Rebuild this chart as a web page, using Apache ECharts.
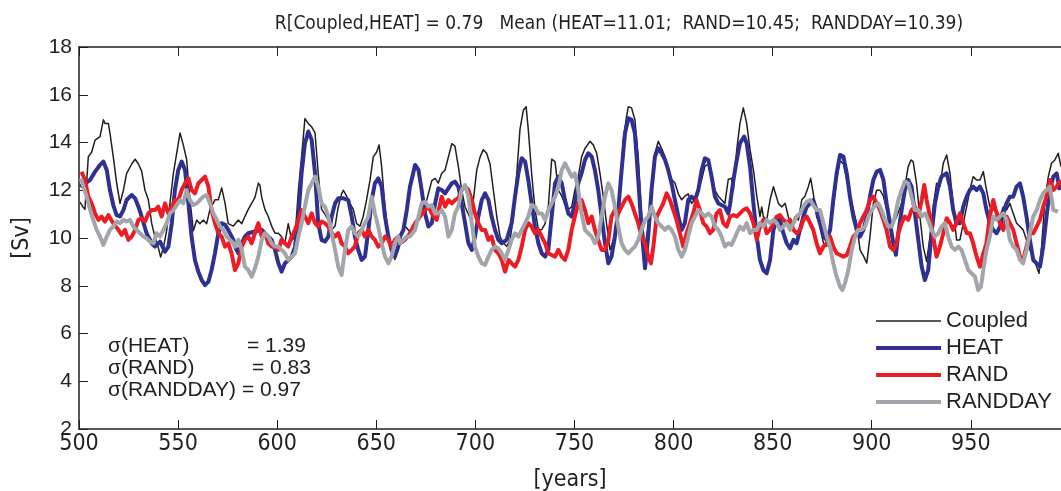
<!DOCTYPE html>
<html>
<head>
<meta charset="utf-8">
<script src="https://cdn.jsdelivr.net/npm/echarts@6/dist/echarts.min.js"></script>
<style>
html,body{margin:0;padding:0;background:#fff;}
#c{width:1061px;height:491px;}
</style>
</head>
<body>
<div id="c"></div>
<script>
const titleText = "R[Coupled,HEAT] = 0.79   Mean (HEAT=11.01;  RAND=10.45;  RANDDAY=10.39)";
const seriesNames = ["Coupled", "HEAT", "RAND", "RANDDAY"];
const sigmaLabels = ["\u03c3(HEAT)", "\u03c3(RAND)", "\u03c3(RANDDAY)"];
const sigmaValues = ["= 1.39", "= 0.83", "= 0.97"];
const yTicks = [2, 4, 6, 8, 10, 12, 14, 16, 18];
const xTicks = [500, 550, 600, 650, 700, 750, 800, 850, 900, 950];

const coupled = [[500.5,11.5],[502,11.3],[503,11.2],[504.7,13.4],[506.4,13.6],[508.1,14.1],[510.6,14.25],[512.3,14.95],[513.1,14.8],[514.8,14.8],[515.6,14.4],[517.3,13.4],[519,12.3],[520.7,11.45],[522.4,12.0],[524,12.7],[526.6,13.1],[528.3,13.3],[530,13.1],[531.6,12.8],[533.3,12.0],[535,11.6],[536.7,10.6],[538.3,10.05],[540,9.6],[541.2,9.2],[542.6,9.6],[544.2,10.3],[545.9,11.45],[547.6,12.7],[549.3,13.55],[551,14.4],[552.6,13.9],[554.3,13.3],[556,11.6],[557.7,10.3],[559.4,10.75],[561,10.6],[562.7,10.75],[564.4,10.6],[566.1,11.2],[568.6,11.6],[570.3,11.6],[572,12.1],[573.7,11.45],[575.3,10.6],[577.9,10.5],[580.4,10.75],[582.1,10.6],[583.7,10.9],[585.4,11.2],[587.1,11.45],[588.8,11.7],[590.5,12.3],[591.3,12.2],[592.2,11.7],[593.8,11.2],[595.5,10.9],[597.2,10.5],[598.9,10.2],[600.6,10.2],[602.2,10.05],[603.9,9.8],[605.6,10.6],[607.3,9.9],[609,10.05],[610.7,12.0],[612.3,13.4],[614,15.0],[615.7,14.8],[617.4,14.65],[619.1,14.4],[620.7,12.7],[622.4,11.2],[624.1,11.0],[625.8,10.75],[627.5,10.35],[629.2,10.5],[630.8,11.3],[632.5,11.85],[633.4,12.0],[635,11.75],[636.7,11.45],[638.4,11.2],[640.1,10.6],[641.8,10.5],[643.4,10.9],[645.1,11.6],[646.8,12.4],[648.5,13.4],[650.2,13.6],[651.4,13.9],[652.7,13.0],[654.4,11.3],[656.1,10.05],[657.7,9.6],[659.4,9.1],[661.1,9.65],[662.8,10.2],[664.5,10.5],[666.5,10.3],[668.7,10.35],[672.1,10.9],[675.5,11.6],[678,12.4],[679.7,12.5],[681.3,12.3],[683,12.7],[684.7,12.85],[686.4,13.4],[688.1,13.95],[689.7,13.85],[691.4,13.0],[693.1,12.0],[694.8,11.3],[696.5,11.0],[697.7,10.75],[699,11.6],[700.7,12.85],[702.4,13.4],[704,13.7],[705.7,13.55],[707.4,13.1],[709.1,12.0],[710.8,10.9],[712.5,10.05],[714.1,9.8],[715.8,9.65],[717.5,9.9],[719.2,10.9],[720.9,12.7],[722.5,14.55],[724.2,15.35],[725.6,15.5],[726.7,14.55],[728.4,12.7],[730.1,11.2],[731.8,10.35],[733.5,10.35],[735.2,10.6],[736.8,11.3],[738.5,13.3],[740.2,13.2],[741.9,12.0],[743.6,11.75],[745.2,11.4],[746.9,11.2],[748.6,11.3],[750.2,12.0],[751.9,12.55],[753.6,13.4],[755.3,13.75],[757.8,14.05],[759.5,13.9],[761.2,13.55],[762.9,12.7],[764.5,11.75],[766.2,10.6],[767.9,9.5],[769.6,9.9],[771.3,10.35],[772.9,12.0],[774.6,14.1],[776.3,15.1],[777.2,15.5],[778.8,15.45],[780.5,14.95],[782.2,13.4],[783.9,10.9],[785.6,9.65],[787.2,10.5],[788.9,12.3],[790.6,13.55],[792.3,14.05],[794,13.75],[795.7,13.4],[797.3,12.85],[799,12.45],[800.7,12.3],[802.4,11.85],[804.1,11.6],[805.7,11.75],[807.4,11.85],[809.1,11.45],[810.8,11.6],[812.5,12.0],[814.2,12.45],[815.8,13.0],[817.5,13.1],[819.2,12.55],[820.9,12.0],[822.6,11.75],[824.2,11.6],[825.9,11.45],[827.6,12.45],[829.3,12.5],[830.2,12.0],[831.9,13.7],[833.5,14.8],[835.2,15.45],[836.9,14.8],[838.6,13.7],[840.3,12.85],[842,11.75],[843.6,10.9],[844.5,11.3],[845.3,10.9],[847,10.75],[848.7,11.6],[850.4,12.15],[851.2,12.2],[852.9,11.45],[854.6,11.3],[856.3,11.45],[857.9,10.9],[859.6,10.5],[861.3,10.9],[863,10.75],[864.7,11.6],[866.3,11.75],[868,12.15],[869.2,12.5],[870.5,11.87],[872.2,10.9],[873.9,10.5],[875.6,9.8],[877.3,9.65],[879,10.3],[880.6,11.3],[882.3,12.45],[884,13.25],[885.7,13.1],[887.4,12.45],[889,11.75],[890.7,11.2],[892.4,10.6],[894.1,9.5],[895.8,9.25],[897.5,8.95],[899.1,10.05],[900.8,11.45],[902.5,12.0],[904.2,12.0],[905.9,11.75],[907.5,11.2],[909.2,10.75],[910.9,10.6],[912.6,10.9],[915.1,11.45],[916.7,12.15],[918.4,12.99],[919.8,13.27],[920.9,13.2],[922.6,12.29],[924.3,10.9],[926,9.64],[927.7,9.01],[929.4,10.06],[931,11.31],[932.7,12.29],[934.4,12.15],[936.1,13.13],[937.8,13.48],[939.5,12.71],[941.1,11.31],[942.8,9.92],[944.5,9.92],[946.2,10.62],[947.9,11.31],[949.5,12.01],[951.2,12.57],[952.9,12.43],[954.6,12.43],[956.3,12.78],[957.9,12.01],[959.6,11.31],[961.3,11.17],[963,11.17],[964.7,10.9],[966.4,11.31],[968,11.17],[969.7,11.45],[971.4,11.03],[973.1,10.62],[974.8,10.48],[976.4,10.34],[978.1,9.92],[979.8,9.5],[981.5,9.22],[983.2,8.8],[984.4,8.52],[985.7,9.64],[987.4,11.59],[989.1,12.57],[990.7,13.13],[992.4,13.27],[994.1,13.55],[995.5,12.99]];

const heat = [[500.5,12.15],[505.6,12.43],[508.1,12.78],[510.6,13.06],[512.3,13.2],[514,12.85],[515.6,12.01],[517.3,11.38],[519,10.96],[520.7,10.9],[522.4,11.17],[524,11.59],[526.6,11.8],[528.3,11.66],[530,11.31],[531.6,10.9],[534.1,10.2],[536.7,9.78],[538.3,9.64],[540.9,9.85],[543.4,9.43],[545.1,9.64],[546.8,10.62],[548.4,12.01],[550.1,12.85],[551.8,13.2],[553.5,12.85],[555.2,11.45],[556.8,10.06],[558.5,9.08],[560.2,8.59],[561.9,8.24],[563.6,8.03],[565.3,8.17],[566.9,8.66],[568.6,9.36],[570.3,10.2],[572,10.62],[573.7,10.55],[575.3,10.34],[577.9,9.92],[578.7,9.64],[580.4,9.36],[582.1,9.78],[583.7,10.06],[585.4,10.2],[588.8,10.27],[592.2,10.34],[593.8,10.2],[595.5,10.06],[597.2,9.92],[598.9,9.5],[600.6,8.94],[602.2,8.59],[603.9,8.94],[605.6,9.08],[607.3,9.22],[609,9.64],[610.7,10.9],[612.3,12.71],[614,13.97],[615.7,14.46],[617.4,14.11],[619.1,12.71],[620.7,10.62],[622.4,9.92],[624.1,9.85],[625.8,10.06],[627.5,10.9],[629.2,11.45],[630.8,11.66],[633.4,11.66],[635.9,11.59],[637.6,10.9],[639.2,10.06],[640.9,9.5],[642.6,9.08],[644.3,9.22],[646,10.34],[647.7,11.59],[649.3,12.29],[651,12.5],[652.7,12.15],[654.4,10.9],[656.1,10.06],[657.7,9.5],[659.4,9.22],[661.1,9.64],[662,10.06],[663.7,10.34],[665.4,11.17],[667,12.15],[669.6,13.06],[671.3,12.85],[672.9,12.01],[674.6,11.03],[676.3,10.48],[678,10.62],[679.7,11.45],[681.3,12.08],[683,12.01],[684.7,11.87],[686.4,12.08],[688.1,12.29],[689.7,12.36],[691.4,12.15],[693.1,11.45],[694.8,10.62],[696.5,9.78],[698.2,9.5],[699.8,10.06],[701.5,10.9],[703.2,11.59],[704.9,11.87],[706.6,11.59],[708.2,10.9],[709.9,10.34],[711.6,9.92],[713.3,9.78],[715.8,9.92],[718.3,10.62],[720,11.73],[721.7,12.71],[723.4,13.34],[725.1,13.2],[726.7,12.43],[728.4,11.45],[730.1,10.48],[731.8,9.78],[733.5,9.36],[735.2,9.22],[736.8,9.5],[738.5,10.9],[740.2,12.29],[741.9,12.57],[743.6,12.29],[745.2,11.59],[746.9,11.03],[748.6,10.9],[750.2,11.45],[751.9,12.29],[753.6,12.71],[755.3,13.27],[757,13.55],[758.7,13.41],[760.3,12.85],[762,12.01],[763.7,10.9],[765.4,9.78],[767.1,8.94],[768.7,9.22],[770.4,10.06],[772.1,11.17],[773.8,12.85],[775.5,14.39],[777.2,15.02],[778.8,14.95],[780.5,14.39],[782.2,12.43],[783.9,10.34],[785.6,8.73],[787.2,10.06],[788.9,12.01],[790.6,13.41],[792.3,13.76],[794,13.55],[795.7,13.27],[797.3,12.85],[799,12.29],[800.7,11.59],[802.4,10.9],[804.1,10.34],[805.7,10.62],[807.4,11.59],[809.1,11.73],[810.8,11.59],[812.5,12.01],[814.2,12.85],[815.8,13.34],[817.5,13.27],[819.2,12.57],[820.9,11.73],[822.6,11.45],[824.2,11.38],[825.9,11.31],[827.6,11.03],[828.5,11.4],[830.2,12.43],[831.9,13.27],[833.5,13.97],[835.6,14.25],[836.9,13.97],[838.6,12.99],[840.3,11.45],[842,10.06],[843.6,9.08],[845.3,8.66],[847,8.52],[848.7,9.08],[850.4,10.34],[852.1,10.76],[853.7,10.76],[855.4,10.2],[857.1,9.78],[858.8,9.57],[860.5,9.92],[862.1,9.78],[863.8,10.34],[865.5,10.9],[867.2,11.31],[868.9,11.45],[870.5,11.59],[872.2,11.17],[873.9,10.62],[875.6,10.06],[877.3,9.92],[879,10.34],[880.6,11.59],[882.3,12.71],[884,13.48],[885.7,13.41],[887.4,12.71],[889,11.73],[890.7,10.9],[892.4,10.34],[894.1,10.06],[895.8,10.34],[897.5,10.9],[899.1,11.73],[900.8,12.43],[902.5,12.78],[904.2,12.85],[905.9,12.43],[907.5,11.45],[909.2,10.62],[910.9,9.78],[912.2,9.3],[913.4,10.2],[915.1,11.17],[916.7,12.01],[918.4,12.43],[920.1,12.15],[921.8,11.03],[923.5,9.92],[925.2,8.8],[926.8,8.24],[928.5,8.66],[930.2,10.2],[931.9,11.45],[933.6,12.15],[935.2,12.57],[937.8,12.71],[939.5,12.15],[941.1,11.17],[942.8,10.62],[944.5,10.62],[946.2,11.31],[947.9,11.73],[949.5,12.01],[951.2,12.15],[952.9,12.01],[954.6,12.15],[956.3,11.87],[957.9,11.17],[959.6,10.62],[961.3,10.34],[963,10.2],[964.7,10.48],[966.4,11.03],[968,11.45],[969.7,11.73],[971.4,11.73],[973.1,12.15],[974.8,12.29],[976.4,11.73],[978.1,10.9],[979.8,9.92],[981.5,9.08],[983.2,8.94],[984.9,8.8],[986.5,9.64],[988.2,10.9],[989.9,12.01],[991.6,12.57],[993.3,12.71],[994.9,12.01]];

const rand = [[501.3,12.78],[503,12.43],[504.7,11.73],[506.4,11.45],[508.1,11.03],[509.8,10.76],[511.4,10.9],[513.1,10.69],[514.8,10.96],[517.3,10.62],[519.9,10.34],[521.5,10.13],[523.2,10.34],[524.9,9.92],[526.6,10.06],[528.3,10.34],[530,10.76],[531.6,10.83],[533.3,10.69],[535,11.03],[536.7,11.17],[538.3,11.17],[540,11.31],[541.7,10.9],[543.4,11.45],[545.1,11.03],[546.8,11.31],[548.4,11.59],[550.1,11.59],[551.8,12.01],[553.5,12.29],[555.2,12.5],[556.8,12.01],[558.5,11.87],[560.2,12.29],[561.9,12.43],[563.6,12.57],[565.3,12.15],[566.9,11.17],[568.6,10.62],[570.3,10.2],[572,10.06],[573.7,9.64],[575.3,9.78],[577,9.36],[578.7,8.66],[580.4,8.94],[582.1,9.64],[583.7,9.92],[585.4,10.06],[587.1,9.78],[588.8,10.2],[590.5,10.62],[592.2,10.06],[593.8,10.2],[595.5,9.78],[597.2,9.64],[598.9,9.64],[600.6,9.5],[602.2,9.92],[603.9,9.78],[605.6,9.64],[607.3,10.06],[609,10.34],[610.7,10.76],[612.3,11.17],[614,10.9],[615.7,10.62],[617.4,11.03],[619.1,10.62],[620.7,10.48],[622.4,10.69],[624.1,10.62],[625.8,10.48],[627.5,10.2],[629.2,10.06],[630.8,10.2],[632.5,9.78],[634.2,9.64],[635.9,9.36],[637.6,9.5],[639.2,9.64],[640.9,10.2],[642.6,10.34],[644.3,10.06],[646,10.34],[647.7,10.06],[649.3,9.92],[651,9.64],[652.7,9.78],[654.4,10.06],[656.1,9.92],[657.7,9.64],[659.4,9.92],[661.1,10.06],[662,9.78],[664.5,9.92],[667,10.2],[669.6,10.62],[672.1,10.9],[674.6,11.17],[676.3,11.31],[678,11.03],[680.5,10.76],[683,11.73],[684.7,11.31],[686.4,11.59],[688.1,11.45],[689.7,11.59],[691.4,11.66],[693.1,12.01],[694.8,12.15],[696.5,12.01],[698.2,11.59],[699.8,11.03],[701.5,10.62],[703.2,10.34],[704.9,10.34],[706.6,9.92],[708.2,10.06],[709.9,9.5],[711.6,9.36],[713.3,9.08],[715,8.59],[716.7,9.08],[718.3,8.94],[720,8.8],[721.7,9.08],[723.4,9.64],[725.1,10.34],[726.7,10.62],[728.4,10.48],[730.1,10.2],[731.8,10.34],[733.5,10.06],[735.2,9.78],[736.8,9.36],[738.5,9.29],[740.2,9.22],[741.9,9.5],[743.6,9.22],[745.2,9.08],[746.9,9.5],[748.6,10.34],[750.2,10.9],[751.9,11.45],[753.6,11.59],[755.3,11.17],[757,10.62],[758.7,10.9],[760.3,10.34],[762,9.92],[763.7,9.5],[765.4,9.5],[767.1,9.92],[768.7,10.9],[770.4,11.17],[772.1,11.03],[773.8,11.31],[775.5,11.59],[777.2,11.73],[778.8,11.45],[780.5,11.03],[782.2,10.62],[783.9,10.06],[785.6,9.78],[787.2,9.22],[788.6,8.94],[789.8,9.64],[791.5,10.9],[793.1,11.17],[794.8,11.45],[796.5,11.87],[798.2,11.59],[799.9,11.17],[801.5,10.76],[803.2,10.2],[804.9,9.64],[806.6,10.2],[808.3,10.62],[809.9,11.03],[811.6,11.59],[813.3,11.17],[815,10.62],[816.7,10.48],[818.4,10.2],[820,10.34],[821.7,11.03],[823.4,11.17],[825.1,10.62],[826.8,10.48],[828.5,10.9],[830.2,10.96],[831.9,10.9],[833.5,11.03],[835.2,11.17],[836.9,11.24],[838.6,11.03],[840.3,10.62],[842,9.92],[843.6,10.48],[845.3,10.76],[847,10.2],[848.7,10.34],[850.4,10.62],[852.1,10.9],[853.7,10.96],[855.4,10.76],[857.1,10.62],[858.8,10.76],[860.5,10.34],[862.1,10.2],[863.8,10.34],[865.5,10.76],[867.2,10.9],[868.9,10.62],[870.5,10.34],[872.2,9.78],[873.9,9.36],[875.6,9.64],[877.3,9.78],[879,10.06],[880.6,9.64],[882.3,9.36],[884,9.29],[885.7,9.22],[887.4,9.29],[889,9.64],[890.7,10.06],[892.4,10.2],[894.1,10.62],[895.8,10.9],[897.5,11.17],[899.1,11.59],[900.8,11.73],[902.5,11.45],[904.2,11.17],[905.9,10.76],[907.5,10.34],[909.2,9.64],[910.9,9.5],[912.6,9.78],[913.4,10.2],[915.1,10.62],[916.7,10.9],[918.4,10.76],[920.1,11.17],[921.8,11.31],[923.5,10.9],[925.2,11.59],[926.5,12.22],[927.7,11.59],[929.4,10.9],[931,10.06],[932.7,9.22],[934.4,9.64],[936.1,10.2],[937.8,10.83],[939.5,10.62],[941.1,10.34],[942.8,10.62],[944.5,11.03],[946.2,10.62],[947.9,10.2],[949.5,10.2],[951.2,9.78],[952.9,9.22],[954.6,8.8],[956.3,9.36],[957.9,9.78],[959.6,10.9],[961.3,11.59],[963,11.03],[964.7,10.62],[966.4,10.34],[968,10.9],[969.7,10.62],[971.4,10.34],[973.1,9.78],[974.8,9.22],[976.4,9.08],[978.1,9.64],[979.8,10.2],[981.5,10.2],[983.2,10.48],[984.9,10.76],[986.5,11.31],[988.2,11.73],[989.9,12.43],[991.6,12.01],[993.3,12.15],[995.5,12.43]];

const randday = [[501,12.5],[502.2,12.15],[503.9,11.73],[505.6,11.17],[507.2,10.76],[508.9,10.34],[510.6,10.06],[512.3,9.71],[514,10.06],[515.6,10.34],[517.3,10.48],[519,10.69],[520.7,10.62],[522.4,10.76],[524,10.69],[525.7,10.76],[527.4,10.48],[529.1,10.34],[530.8,10.2],[532.5,10.06],[534.1,9.99],[535.8,9.85],[537.5,9.78],[539.2,10.2],[540.9,10.06],[542.6,10.34],[544.2,10.62],[545.9,11.03],[547.6,11.17],[549.3,11.38],[551,11.59],[552.6,11.45],[554.3,12.01],[556,11.59],[557.7,11.38],[559.4,11.45],[561,11.59],[562.7,11.73],[564.4,11.8],[566.1,11.45],[567.8,11.03],[569.5,10.76],[571.1,10.48],[572.8,10.34],[574.5,10.06],[576.2,9.92],[577.9,9.78],[578.7,9.64],[580.4,9.92],[582.1,9.5],[583.7,8.8],[585.4,8.66],[587.1,8.38],[588.8,8.73],[590.5,9.22],[592.2,9.92],[593.8,10.2],[595.5,10.06],[597.2,9.78],[598.9,9.64],[600.6,9.64],[602.2,9.5],[603.9,9.36],[605.6,9.08],[607.3,9.22],[609,9.36],[610.7,10.06],[612.3,10.62],[614,11.31],[615.7,12.01],[617.4,12.29],[619.1,12.57],[620.7,12.15],[622.4,11.45],[624.1,11.31],[625.8,10.9],[627.5,10.2],[629.2,9.5],[630.8,8.8],[632.5,8.45],[634.2,9.5],[635.9,10.34],[637.6,10.48],[639.2,10.2],[640.9,10.06],[642.6,10.34],[644.3,10.62],[646,10.9],[647.7,11.73],[649.3,11.03],[651,10.48],[652.7,9.78],[654.4,9.22],[656.1,8.94],[657.7,9.22],[659.4,9.78],[661.1,10.06],[662,9.78],[663.7,9.92],[665.4,10.06],[667,10.06],[669.6,10.34],[671.3,10.9],[672.9,11.45],[674.6,11.52],[676.3,11.31],[678,11.38],[679.7,11.03],[681.3,11.03],[683,11.17],[684.7,10.9],[686.4,10.06],[688.1,10.34],[689.7,11.03],[691.4,11.31],[693.1,12.01],[694.8,12.22],[696.5,11.73],[698.2,10.62],[699.8,9.64],[701.5,9.22],[703.2,8.94],[704.9,8.87],[706.6,9.22],[708.2,9.5],[709.9,9.64],[711.6,9.57],[713.3,9.36],[715,9.08],[716.7,9.5],[718.3,9.92],[720,10.2],[721.7,10.06],[723.4,10.34],[725.1,10.62],[726.7,10.9],[728.4,11.38],[730.1,11.31],[731.8,11.03],[733.5,11.03],[735.2,10.76],[736.8,11.17],[738.5,11.45],[740.2,11.73],[741.9,12.15],[743.6,12.85],[745.2,13.13],[746.9,12.85],[748.6,12.57],[750.2,12.71],[751.9,12.01],[753.6,11.03],[755.3,10.34],[757,10.2],[758.7,10.06],[760.3,9.78],[762,10.06],[763.7,10.9],[765.4,11.73],[767.1,12.29],[768.7,12.01],[770.4,11.31],[772.1,10.48],[773.8,9.78],[775.5,9.5],[777.2,9.36],[778.8,9.5],[780.5,9.64],[782.2,9.92],[783.9,10.34],[785.6,10.76],[787.2,10.9],[788.9,11.31],[790.6,10.9],[792.3,10.62],[794,10.48],[795.7,10.34],[797.3,10.48],[799,10.34],[800.7,10.06],[802.4,9.5],[804.1,9.22],[805.7,9.5],[807.4,10.06],[809.1,10.62],[810.8,10.9],[812.5,11.17],[814.2,11.03],[815.8,10.9],[817.5,11.03],[819.2,10.9],[820.9,10.48],[822.6,10.34],[824.2,10.06],[825.9,9.64],[827.6,9.78],[829.3,9.71],[830.2,9.78],[831.9,10.2],[833.5,10.48],[835.2,10.34],[836.9,10.62],[838.6,10.2],[840.3,10.34],[842,10.34],[843.6,10.62],[845.3,10.48],[847,10.76],[848.7,10.62],[850.4,10.76],[852.1,10.62],[853.7,10.34],[855.4,10.48],[857.1,10.62],[858.8,10.34],[860.5,10.62],[862.1,10.9],[863.8,11.03],[865.5,11.31],[867.2,11.52],[868.9,11.59],[870.5,11.38],[872.2,11.17],[873.9,11.17],[875.6,10.62],[877.3,10.06],[879,9.64],[880.6,8.94],[882.3,8.38],[884,7.96],[885.2,7.82],[886.5,8.1],[888.2,8.66],[889.9,9.5],[891.6,10.06],[893.2,10.34],[894.9,10.34],[896.6,10.48],[898.3,10.9],[900,11.17],[901.7,11.38],[903.3,11.45],[905,11.17],[906.7,10.76],[908.4,10.48],[910.1,10.48],[911.7,10.9],[913.4,11.59],[915.1,12.01],[916.7,12.36],[918.4,12.29],[920.1,11.73],[921.8,11.17],[923.5,11.17],[925.2,10.9],[926.8,11.03],[928.5,10.76],[930.2,10.34],[931.9,10.06],[933.6,10.2],[935.2,10.48],[936.9,10.62],[938.6,10.06],[940.3,9.64],[942,9.5],[943.7,9.64],[945.3,9.5],[947,9.08],[948.7,8.66],[950.4,8.52],[952.1,8.38],[953.7,7.82],[955.1,7.96],[956.3,8.66],[957.9,9.5],[959.6,10.06],[961.3,10.9],[963,10.76],[964.7,10.9],[966.4,11.03],[968,10.76],[969.7,9.92],[971.4,9.64],[973.1,9.5],[974.8,9.08],[976.4,8.94],[978.1,9.5],[979.8,10.2],[981.5,10.9],[983.2,11.17],[984.9,11.59],[986.5,11.87],[988.2,12.01],[989.9,12.15],[991.6,11.17],[994,11.1]];

const colors = ["#231f20", "#2e3192", "#ed1c24", "#a2a5a9"];
const widths = [1.5, 4, 4, 4];
const dataSets = [coupled, heat, rand, randday];

const chart = echarts.init(document.getElementById('c'), null, {renderer: 'canvas'});
const axisFont = "'Liberation Sans Narrow', 'DejaVu Sans Condensed', 'Liberation Sans', sans-serif";
const mainFont = "'Liberation Sans', Arial, sans-serif";

const series = seriesNames.map((n, i) => ({
  name: n,
  type: 'line',
  data: dataSets[i],
  showSymbol: false,
  symbol: 'none',
  lineStyle: {color: colors[i], width: widths[i], join: 'round'},
  itemStyle: {color: colors[i]},
  animation: false,
  z: 2 + i
}));

// sigma annotation text
const sigmaFontSize = 21;
const eqX = [247, 252, 242];
const sigmaY = [348, 370, 392];
const sigmaGraphics = [];
sigmaLabels.forEach((s, i) => {
  sigmaGraphics.push({type: 'text', left: 108, top: sigmaY[i] - 12, style: {text: s, font: sigmaFontSize + "px " + mainFont, fill: '#231f20'}});
  sigmaGraphics.push({type: 'text', left: eqX[i], top: sigmaY[i] - 12, style: {text: sigmaValues[i], font: sigmaFontSize + "px " + mainFont, fill: '#231f20'}});
});

chart.setOption({
  animation: false,
  backgroundColor: '#fff',
  title: {
    text: titleText,
    left: 614, top: 10, textAlign: 'center',
    textStyle: {fontFamily: axisFont, fontSize: 19, fontWeight: 'normal', color: '#231f20'}
  },
  grid: {left: 79, right: 0, top: 47, bottom: 62, containLabel: false, outerBoundsMode: 'none'},
  legend: {
    orient: 'vertical',
    right: 4, top: 305,
    itemWidth: 65, itemHeight: 14, itemGap: 5,
    textStyle: {fontFamily: mainFont, fontSize: 22, color: '#231f20'},
    data: seriesNames.map((n, i) => ({
      name: n,
      lineStyle: {color: colors[i], width: widths[i]},
      itemStyle: {color: 'rgba(0,0,0,0)', borderWidth: 0, opacity: 0}
    })),
    selectedMode: false
  },
  xAxis: [{
    type: 'value', min: 500, max: 995.5, interval: 50,
    position: 'bottom',
    axisLine: {show: true, onZero: false, lineStyle: {color: '#231f20', width: 1.5}},
    axisTick: {show: true, inside: true, length: 9, lineStyle: {color: '#231f20', width: 1}},
    axisLabel: {show: true, margin: 4, showMaxLabel: false, fontFamily: axisFont, fontSize: 23, color: '#231f20'},
    splitLine: {show: false},
    name: '[years]', nameLocation: 'middle', nameGap: 40,
    nameTextStyle: {fontFamily: axisFont, fontSize: 23, color: '#231f20'}
  }, {
    type: 'value', min: 500, max: 995.5, interval: 50,
    position: 'top',
    axisLine: {show: true, onZero: false, lineStyle: {color: '#231f20', width: 1.5}},
    axisTick: {show: true, inside: true, length: 9, lineStyle: {color: '#231f20', width: 1}},
    axisLabel: {show: false},
    splitLine: {show: false}
  }],
  yAxis: {
    type: 'value', min: 2, max: 18, interval: 2,
    axisLine: {show: true, onZero: false, lineStyle: {color: '#231f20', width: 1.5}},
    axisTick: {show: true, inside: true, length: 9, lineStyle: {color: '#231f20', width: 1}},
    axisLabel: {margin: 7, fontFamily: mainFont, fontSize: 21, color: '#231f20'},
    splitLine: {show: false},
    name: '[Sv]', nameLocation: 'middle', nameGap: 45,
    nameTextStyle: {fontFamily: axisFont, fontSize: 23, color: '#231f20'}
  },
  series: series,
  graphic: sigmaGraphics
});
</script>
</body>
</html>
